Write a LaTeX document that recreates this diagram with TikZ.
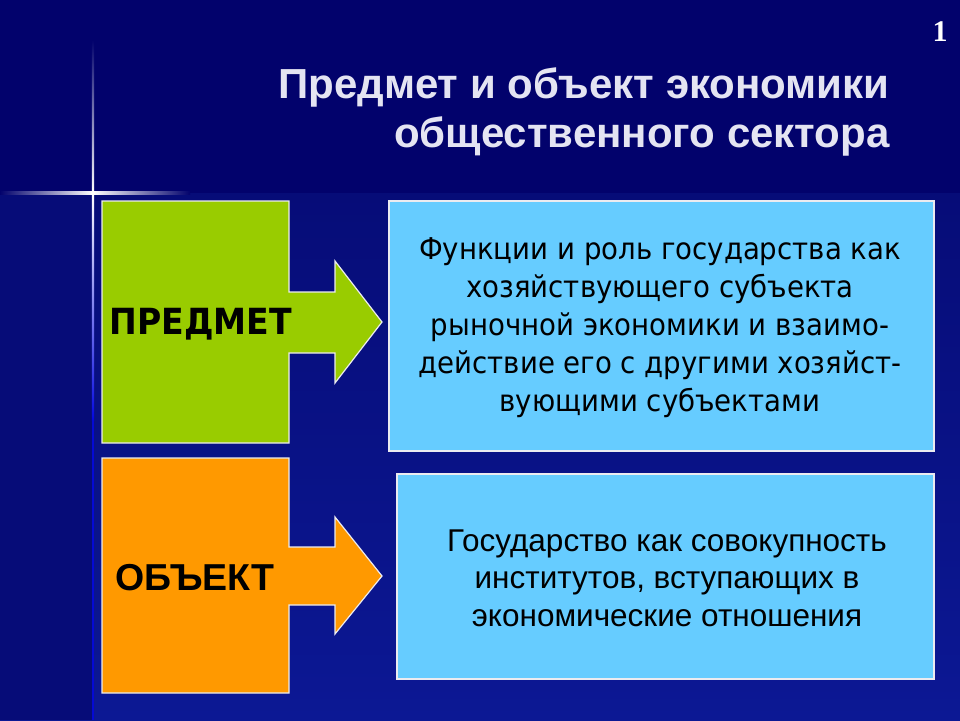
\documentclass[tikz,border=0pt]{standalone}
\usepackage{fontspec}
\setmainfont{Liberation Sans}
\newfontfamily\tahoma[FakeStretch=0.92]{DejaVu Sans}
\newfontfamily\numfont{Liberation Serif}
\definecolor{bgtop}{RGB}{2,2,108}
\definecolor{bgbot}{RGB}{12,24,148}
\definecolor{bgbotdark}{RGB}{6,12,120}
\definecolor{lime}{RGB}{153,204,0}
\definecolor{orng}{RGB}{255,153,0}
\definecolor{sky}{RGB}{102,204,255}
\definecolor{titlec}{RGB}{228,228,242}
\definecolor{edge}{RGB}{235,235,240}
\tikzset{
  shapeline/.style={draw=edge, line width=1.2pt, line join=miter},
  boxline/.style={draw=edge, line width=1.2pt, fill=sky},
  labeltext/.style={font=\tahoma\bfseries\fontsize{36}{40}\selectfont, text=black},
  labeltextb/.style={font=\bfseries\fontsize{37.5}{40}\selectfont, text=black},
  bodytahoma/.style={font=\tahoma\fontsize{30}{38}\selectfont, align=center, text=black},
  bodyarial/.style={font=\fontsize{31.5}{37.5}\selectfont, align=center, text=black},
}
\begin{document}
\begin{tikzpicture}[x=1pt,y=-1pt]
\useasboundingbox (0,0) rectangle (960,720);
% background
\fill[bgbot] (0,0) rectangle (960,720);
\shade[top color=bgbotdark, bottom color=bgbot] (0,193) rectangle (960,720);
\fill[bgbotdark] (0,193) rectangle (92,720);
\fill[bgtop] (0,0) rectangle (960,193);
% star glow
\shade[left color=bgtop, right color=white] (0,191.5) rectangle (93,194.5);
\shade[left color=white, right color=bgtop] (93,191.5) rectangle (190,194.5);
\shade[top color=bgtop, bottom color=white] (91.8,40) rectangle (94.2,193);
\shade[top color=white, bottom color=blue!70!bgbot] (91.8,193) rectangle (94.2,420);
\fill[blue!60!bgbot] (91.8,420) rectangle (94.2,720);
\fill[white] (93,193) circle (2.2);
% number
\node[font=\numfont\bfseries\fontsize{30}{30}\selectfont, text=white] (num) at (940,32) {1};
% title
\node[font=\bfseries\fontsize{42}{49}\selectfont, text=titlec, align=right, anchor=east] (title) at (893,112)
  {Предмет и объект экономики\\общественного сектора};
% green arrow box
\draw[shapeline, fill=lime] (102,201) -- (289,201) -- (289,292) -- (335,292) -- (335,261) -- (382,322)
  -- (335,383) -- (335,353) -- (289,353) -- (289,443) -- (102,443) -- cycle;
\node[labeltext] (predmet) at (201,324) {ПРЕДМЕТ};
% orange arrow box
\draw[shapeline, fill=orng] (102,458) -- (289,458) -- (289,547) -- (335,547) -- (335,517) -- (382,576)
  -- (335,634) -- (335,605) -- (289,605) -- (289,693) -- (102,693) -- cycle;
\node[labeltextb] (obekt) at (195,578) {ОБЪЕКТ};
% blue boxes
\draw[boxline] (389,201) rectangle (934,451);
\node[bodytahoma] (t1) at (660,328)
  {Функции и роль государства как\\хозяйствующего субъекта\\ рыночной экономики и взаимо-\\действие его с другими хозяйст-\\вующими субъектами};
\draw[boxline] (397,474) rectangle (934,679);
\node[bodyarial] (t2) at (667,578)
  {Государство как совокупность\\институтов, вступающих в\\экономические отношения};
\end{tikzpicture}
\end{document}
